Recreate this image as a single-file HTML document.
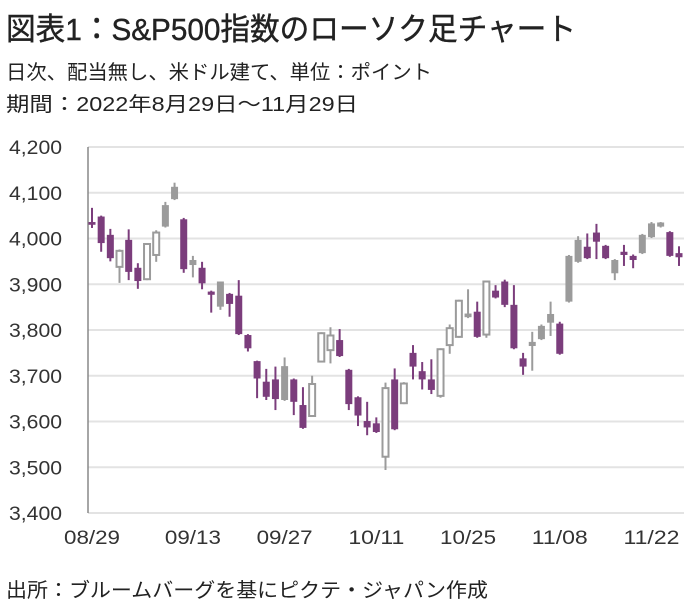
<!DOCTYPE html>
<html><head><meta charset="utf-8"><style>
html,body{margin:0;padding:0;background:#fff;width:688px;height:614px;overflow:hidden;font-family:"Liberation Sans","Noto Sans CJK JP",sans-serif;color:#222}
</style></head><body>
<svg id="c" width="688" height="614" style="position:absolute;left:0;top:0" font-family="Liberation Sans, Noto Sans CJK JP, sans-serif">
<text x="6" y="40" font-size="31" fill="#222" stroke="#222" stroke-width="0.4" textLength="570" lengthAdjust="spacingAndGlyphs">図表1：S&amp;P500指数のローソク足チャート</text>
<text x="6" y="79" font-size="20" fill="#222" textLength="426" lengthAdjust="spacingAndGlyphs">日次、配当無し、米ドル建て、単位：ポイント</text>
<text x="6" y="111" font-size="20" fill="#222" textLength="352" lengthAdjust="spacingAndGlyphs">期間：2022年8月29日～11月29日</text>
<text x="6" y="597" font-size="20" fill="#222" textLength="482" lengthAdjust="spacingAndGlyphs">出所：ブルームバーグを基にピクテ・ジャパン作成</text>
</svg>
<script>
const opens=[4036,4048,4008,3938,3997,3936,3911,3964,4026,4086,4042,3942,3936,3884,3851,3879,3875,3789,3732,3687,3692,3647,3692,3636,3612,3731,3756,3778,3713,3653,3601,3596,3523,3692,3640,3750,3710,3692,3656,3767,3785,3828,3840,3790,3886,3906,3855,3738,3765,3780,3816,3814,3862,3949,3982,4013,3984,3924,3971,3962,3968,4003,4026,4014,3968];
const closes=[4030,3990,3957,3973,3927,3907,3988,4013,4073,4113,3933,3953,3902,3877,3906,3857,3791,3760,3694,3654,3649,3721,3643,3586,3682,3793,3788,3743,3638,3613,3587,3577,3673,3583,3683,3720,3692,3669,3758,3804,3864,3836,3785,3906,3871,3855,3760,3720,3774,3809,3835,3748,3962,3997,3957,3993,3957,3953,3964,3953,4008,4033,4035,3962,3959];
const highs=[4067,4050,4021,3976,4020,3946,3990,4018,4080,4122,4045,3962,3949,3886,3906,3881,3909,3791,3733,3715,3720,3740,3694,3675,3700,3795,3806,3802,3715,3655,3643,3609,3685,3716,3686,3767,3730,3736,3760,3812,3866,3889,3862,3908,3898,3910,3898,3750,3796,3812,3862,3818,3964,4005,4011,4032,3986,3955,3986,3965,4010,4036,4036,4016,3983];
const lows=[4023,3971,3950,3903,3909,3890,3909,3949,4024,4084,3925,3915,3889,3838,3844,3829,3789,3753,3651,3647,3625,3645,3614,3584,3610,3729,3727,3741,3625,3590,3570,3575,3494,3581,3638,3692,3670,3660,3652,3748,3783,3826,3783,3783,3869,3850,3758,3702,3711,3778,3787,3746,3860,3947,3955,3955,3955,3909,3940,3935,3966,4001,4024,3960,3940];
const filledUp=[0,0,0,0,0,0,0,0,1,1,0,1,0,0,1,0,0,0,0,0,0,1,0,0,0,0,0,0,0,0,0,0,0,0,0,0,0,0,0,0,0,1,0,0,0,0,0,0,1,1,1,0,1,1,0,0,0,1,0,0,1,1,1,0,0];
const yTicks=[3400,3500,3600,3700,3800,3900,4000,4100,4200];
const xLabels=["08/29","09/13","09/27","10/11","10/25","11/08","11/22"];
const xLabelIdx=[0,11,21,31,41,51,61];

const NS="http://www.w3.org/2000/svg";
const svg=document.getElementById('c');
const X0=88,X1=684,Y0=147,Y1=513,VMIN=3400,VMAX=4200;
const n=opens.length;
function xs(i){return 92+i*(679-92)/(n-1);}
function ys(v){return Y0+(VMAX-v)*(Y1-Y0)/(VMAX-VMIN);}
function mk(tag,attrs){const e=document.createElementNS(NS,tag);for(const k in attrs)e.setAttribute(k,attrs[k]);svg.appendChild(e);return e;}
yTicks.forEach(v=>{
  const g=mk('line',{x1:X0,x2:X1,y1:ys(v),y2:ys(v),stroke:'#e3e3e3','stroke-width':2});
  
  
  const t=mk('text',{x:62,y:ys(v)+7,'text-anchor':'end','font-size':19,fill:'#333',textLength:53,lengthAdjust:'spacingAndGlyphs'});
  t.textContent=v.toLocaleString('en-US');
  
  
});
const ax=mk('line',{x1:X0,x2:X0,y1:Y0,y2:Y1,stroke:'#888','stroke-width':1.5});


xLabels.forEach((s,k)=>{
  const t=mk('text',{x:xs(xLabelIdx[k]),y:544,'text-anchor':'middle','font-size':19,fill:'#333',textLength:56,lengthAdjust:'spacingAndGlyphs'});
  t.textContent=s;
  
  
});
for(let i=0;i<n;i++){
  const o=opens[i],c=closes[i],x=xs(i);
  const down=c<o;
  const col=down?'#7b3d7c':'#9b9b9b';
  const w=mk('line',{x1:x,x2:x,y1:ys(highs[i]),y2:ys(lows[i]),stroke:col,'stroke-width':2});
  
  
  const top=ys(Math.max(o,c)),bot=ys(Math.min(o,c));
  const h=Math.max(bot-top,2.5);
  let r;
  if(down||filledUp[i]) r=mk('rect',{x:x-3.5,y:top,width:7,height:h,fill:col});
  else r=mk('rect',{x:x-3,y:top,width:6,height:h,fill:'#fff',stroke:col,'stroke-width':2});
  
  
}
</script>
</body></html>
